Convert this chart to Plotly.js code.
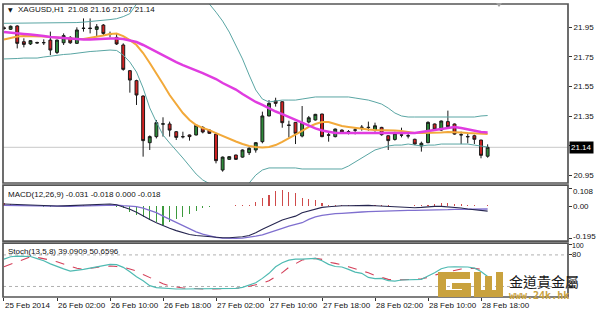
<!DOCTYPE html>
<html><head><meta charset="utf-8">
<script src="https://cdn.plot.ly/plotly-3.0.1.min.js"></script>
<style>html,body{margin:0;padding:0;background:#fff;}#chart{width:600px;height:313px;}</style>
</head><body><div id="chart"></div>
<script>
const symbolLabel = 'XAGUSD,H1';
const tickIdx = [0, 8, 16, 24, 32, 40, 48, 56, 64, 72];
const tickText = ['25 Feb 2014','26 Feb 02:00','26 Feb 10:00','26 Feb 18:00','27 Feb 02:00','27 Feb 10:00','27 Feb 18:00','28 Feb 02:00','28 Feb 10:00','28 Feb 18:00'];

const open = [21.945,21.935,21.957,21.851,21.836,21.846,21.844,21.862,21.779,21.844,21.880,21.840,21.940,21.943,21.934,21.963,21.902,21.880,21.829,21.656,21.589,21.485,21.171,21.212,21.296,21.297,21.245,21.212,21.223,21.223,21.274,21.256,21.229,20.987,21.059,21.088,21.074,21.104,21.122,21.178,21.351,21.452,21.447,21.290,21.308,21.216,21.310,21.324,21.364,21.224,21.212,21.256,21.246,21.255,21.273,21.275,21.256,21.274,21.218,21.193,21.224,21.216,21.194,21.149,21.171,21.297,21.256,21.313,21.297,21.223,21.213,21.218,21.189,21.08];
const high = [21.955,21.96,21.962,21.874,21.862,21.851,21.867,21.919,21.865,21.907,21.889,21.948,22.008,22.008,21.970,21.970,21.919,21.907,21.840,21.660,21.595,21.490,21.220,21.324,21.342,21.313,21.250,21.245,21.226,21.292,21.283,21.260,21.238,21.078,21.080,21.090,21.126,21.140,21.175,21.380,21.458,21.474,21.450,21.319,21.310,21.418,21.351,21.365,21.366,21.245,21.266,21.260,21.256,21.272,21.290,21.313,21.306,21.278,21.220,21.245,21.272,21.245,21.198,21.178,21.315,21.300,21.320,21.387,21.300,21.245,21.238,21.225,21.190,21.16];
const low = [21.93,21.93,21.806,21.813,21.829,21.838,21.829,21.761,21.768,21.829,21.836,21.836,21.919,21.907,21.889,21.896,21.880,21.829,21.656,21.508,21.425,21.077,21.122,21.200,21.212,21.212,21.189,21.200,21.185,21.220,21.234,21.230,21.032,20.976,21.055,21.055,21.070,21.088,21.104,21.167,21.349,21.414,21.272,21.207,21.162,21.207,21.301,21.320,21.208,21.178,21.207,21.236,21.227,21.227,21.252,21.252,21.245,21.218,21.122,21.185,21.207,21.200,21.155,21.111,21.168,21.255,21.250,21.275,21.225,21.162,21.167,21.162,21.066,21.07];
const close = [21.94,21.955,21.840,21.833,21.858,21.843,21.845,21.795,21.862,21.892,21.844,21.930,21.942,21.940,21.952,21.907,21.900,21.836,21.665,21.593,21.492,21.185,21.212,21.306,21.298,21.256,21.207,21.211,21.212,21.288,21.243,21.234,21.050,21.074,21.077,21.059,21.122,21.133,21.171,21.351,21.436,21.436,21.306,21.288,21.234,21.306,21.339,21.362,21.212,21.222,21.263,21.241,21.244,21.257,21.275,21.273,21.285,21.225,21.185,21.234,21.222,21.218,21.162,21.167,21.308,21.261,21.317,21.279,21.229,21.225,21.211,21.194,21.086,21.14];

const bbUpper = [21.975,21.975,21.977,21.978,21.978,21.977,21.976,21.976,21.977,21.978,21.978,21.980,21.983,21.986,21.990,21.995,22.000,22.006,22.020,22.040,22.110,22.170,22.220,22.245,22.255,22.250,22.235,22.210,22.185,22.160,22.135,22.105,22.050,21.990,21.916,21.822,21.735,21.627,21.526,21.465,21.445,21.452,21.458,21.458,21.458,21.465,21.472,21.479,21.479,21.479,21.479,21.479,21.479,21.472,21.465,21.458,21.445,21.431,21.404,21.371,21.351,21.344,21.344,21.344,21.344,21.344,21.344,21.344,21.344,21.344,21.344,21.344,21.351,21.354];
const bbLower = [21.735,21.735,21.738,21.741,21.741,21.741,21.748,21.755,21.761,21.765,21.768,21.775,21.778,21.785,21.788,21.792,21.795,21.792,21.761,21.714,21.647,21.539,21.405,21.310,21.223,21.169,21.122,21.068,21.014,20.960,20.920,20.893,20.866,20.846,20.839,20.846,20.866,20.899,20.953,20.987,21.001,21.001,21.001,21.001,21.001,20.994,20.994,20.994,20.994,20.994,20.994,20.994,21.014,21.041,21.068,21.095,21.122,21.135,21.149,21.155,21.155,21.162,21.155,21.149,21.155,21.155,21.162,21.162,21.162,21.162,21.162,21.155,21.149,21.142];
const maSlow = [21.916,21.913,21.910,21.903,21.899,21.896,21.889,21.883,21.879,21.873,21.869,21.866,21.866,21.866,21.869,21.873,21.873,21.873,21.869,21.859,21.849,21.829,21.805,21.782,21.758,21.735,21.714,21.694,21.677,21.660,21.640,21.620,21.600,21.573,21.553,21.529,21.499,21.472,21.445,21.425,21.401,21.381,21.364,21.344,21.324,21.304,21.283,21.267,21.253,21.243,21.236,21.236,21.236,21.236,21.236,21.236,21.236,21.236,21.236,21.236,21.236,21.236,21.236,21.243,21.250,21.256,21.267,21.273,21.277,21.270,21.260,21.250,21.243,21.240];
const maFast = [21.866,21.876,21.886,21.889,21.889,21.889,21.886,21.883,21.879,21.876,21.873,21.869,21.869,21.876,21.883,21.893,21.903,21.906,21.889,21.862,21.829,21.775,21.708,21.640,21.566,21.492,21.431,21.371,21.324,21.290,21.270,21.256,21.236,21.216,21.196,21.179,21.162,21.149,21.142,21.139,21.142,21.155,21.176,21.199,21.223,21.250,21.277,21.297,21.310,21.310,21.297,21.283,21.277,21.270,21.263,21.260,21.256,21.256,21.256,21.253,21.250,21.243,21.236,21.236,21.236,21.236,21.240,21.243,21.243,21.240,21.236,21.233,21.229,21.229];

const macdMain = [0.012,0.010,0.008,0.006,0.004,0.002,0,0,0,0.001,0.002,0.004,0.006,0.008,0.010,0.011,0.012,0.008,-0.004,-0.020,-0.038,-0.061,-0.081,-0.101,-0.119,-0.135,-0.149,-0.162,-0.172,-0.178,-0.182,-0.186,-0.190,-0.192,-0.192,-0.190,-0.186,-0.178,-0.162,-0.141,-0.121,-0.101,-0.085,-0.073,-0.061,-0.040,-0.028,-0.016,-0.008,-0.004,0,0.002,0.002,0.004,0.004,0.004,0.002,0,-0.004,-0.006,-0.008,-0.008,-0.010,-0.008,-0.004,-0.002,-0.002,-0.004,-0.008,-0.012,-0.018,-0.022,-0.026,-0.031];
const macdSignal = [0.004,0.003,0.002,0.001,0,-0.001,-0.002,-0.003,-0.004,-0.003,-0.002,-0.001,0,0.002,0.004,0.005,0.006,0.006,0.002,0,-0.004,-0.012,-0.024,-0.040,-0.061,-0.081,-0.101,-0.121,-0.139,-0.156,-0.170,-0.182,-0.190,-0.194,-0.196,-0.196,-0.194,-0.190,-0.182,-0.174,-0.162,-0.149,-0.135,-0.121,-0.111,-0.101,-0.081,-0.065,-0.057,-0.051,-0.046,-0.044,-0.040,-0.038,-0.036,-0.034,-0.032,-0.030,-0.028,-0.028,-0.026,-0.026,-0.026,-0.026,-0.024,-0.024,-0.022,-0.022,-0.020,-0.020,-0.018,-0.018,-0.018,-0.018];
const macdHist = [0.016,0.012,0.006,0.004,0.002,-0.002,-0.003,-0.004,-0.002,0.002,0.003,0.005,0.006,0.006,0.005,0.004,0.002,-0.004,-0.014,-0.034,-0.055,-0.065,-0.085,-0.095,-0.115,-0.095,-0.081,-0.069,-0.050,-0.030,-0.012,-0.004,0.001,0.003,0.003,0.004,0.005,0.008,0.026,0.046,0.067,0.090,0.097,0.085,0.077,0.046,0.042,0.036,0.020,0.008,0.007,0.006,0.006,0.006,0.006,0.006,0.005,0.005,0.004,0.003,0.001,0.001,0.004,0.005,0.006,0.012,0.016,0.016,0.014,0.010,0.007,0.005,0.003,0.004];
const macdHeader = 'MACD(12,26,9) -0.031 -0.018 0.000 -0.018';
const macdTicks = [0.108, 0, -0.195];
const macdTickText = ['0.108', '0.00', '-0.195'];
const macdLabelShift = [-3, 0, 2];

const stochMain = [72,76.5,77.8,77.8,77,73,69,63,57.5,53.5,49.3,50.5,52.6,55,57.5,60.7,62,61.5,56.4,48,38.5,31,21.5,17.7,16.5,15.8,15.2,15.2,15.2,15.8,15.8,15.8,15.8,15.8,16.5,16.5,18.3,22,27,35.4,45,57.5,65,70.2,72,72,72.7,73.4,68.9,62,58,57,52.6,47.4,45,37.2,34.8,35.4,31,30.3,32.3,32.3,32.9,33.5,39.8,46,53.8,57,57.5,57.5,57,55,48.6,39.09];
const stochSignal = [57.5,62.5,67.6,72.7,76.5,75.3,73.4,70.2,67,62.5,57.5,54.5,52.6,53.8,56.4,58,58.8,58,56.4,53.2,49.3,43,36.7,31,25.3,20.9,18.3,17,16.5,15.2,15.2,15.2,15.2,15.2,15.8,16.5,17.7,20.2,22,25.9,31,38.5,46.4,56.4,63.9,70.2,72,73.4,71.5,66.4,63.9,61.5,57.5,53.8,49.9,46,41,37.2,33.5,32.3,32.3,32.9,33.5,34.8,37.2,41.7,45,48,50.5,53.2,54.5,54.5,52.6,50.66];
const stochHeader = 'Stoch(13,5,8) 39.0909 50.6596';
const stochLevels = [80, 20];
const stochTicks = [100, 80, 20];
const stochTickText = ['100', '80', ''];
const stochLabelShift = [-1, 0, 0];
const priceTicks = [21.95, 21.75, 21.55, 21.35, 21.15, 20.95];

const xs = open.map((_, i) => i);
const last = close.length - 1;
const W = 600, H = 313, ML = 3, MR = 32, MT = 4, MB = 16;
const PW = W - ML - MR, PH = H - MT - MB;
const px = x => (x - ML) / PW;
const py = y => (H - MB - y) / PH;
const FONT = 'Liberation Sans, Arial, sans-serif';

const traces = [
  {type:'scatter', mode:'lines', x: xs, y: bbUpper, line:{color:'#5aa6a4', width:1}, xaxis:'x', yaxis:'y', hoverinfo:'skip'},
  {type:'scatter', mode:'lines', x: xs, y: bbLower, line:{color:'#5aa6a4', width:1}, xaxis:'x', yaxis:'y', hoverinfo:'skip'},
  {type:'scatter', mode:'lines', x: xs, y: maFast, line:{color:'#f2a93a', width:2}, xaxis:'x', yaxis:'y', hoverinfo:'skip'},
  {type:'scatter', mode:'lines', x: xs, y: maSlow, line:{color:'#e03ce0', width:2.5}, xaxis:'x', yaxis:'y', hoverinfo:'skip'},
  {type:'candlestick', x: xs, open: open, high: high, low: low, close: close, xaxis:'x', yaxis:'y',
   whiskerwidth: 0,
   increasing:{line:{color:'#1a1a1a', width:1}, fillcolor:'#2e8b3a'},
   decreasing:{line:{color:'#1a1a1a', width:1}, fillcolor:'#d42222'}, hoverinfo:'skip'},
  {type:'bar', x: xs, y: macdHist, width: 0.16, marker:{color: macdHist.map(v => v >= 0 ? '#cf4a4a' : '#3c9a3c'), line:{width:0}}, xaxis:'x', yaxis:'y2', hoverinfo:'skip'},
  {type:'scatter', mode:'lines', x: xs, y: macdSignal, line:{color:'#7f6fcf', width:1.3}, xaxis:'x', yaxis:'y2', hoverinfo:'skip'},
  {type:'scatter', mode:'lines', x: xs, y: macdMain, line:{color:'#262650', width:1.1}, xaxis:'x', yaxis:'y2', hoverinfo:'skip'},
  {type:'scatter', mode:'lines', x: xs, y: stochSignal, line:{color:'#d4405a', width:1.1, dash:'dash'}, xaxis:'x', yaxis:'y3', hoverinfo:'skip'},
  {type:'scatter', mode:'lines', x: xs, y: stochMain, line:{color:'#4fbab2', width:1.2}, xaxis:'x', yaxis:'y3', hoverinfo:'skip'}
];

const shapes = [];
shapes.push({type:'line', xref:'paper', x0:0, x1:1, yref:'y', y0:close[last], y1:close[last], line:{color:'#c8c8c8', width:1}, layer:'below'});
stochLevels.forEach(v => shapes.push({type:'line', xref:'paper', x0:0, x1:1, yref:'y3', y0:v, y1:v, line:{color:'#b0b0b0', width:1, dash:'dot'}, layer:'below'}));
['y','y2','y3'].forEach(a => shapes.push({type:'rect', xref:'paper', x0:0, x1:1, yref:a+' domain', y0:0, y1:1, line:{color:'#555', width:1.7}, fillcolor:'rgba(0,0,0,0)'}));
const tri = [[496,3],[502,3],[499,7]].map(p => [px(p[0]), py(p[1])]);
shapes.push({type:'path', xref:'paper', yref:'paper', path:'M'+tri.map(p=>p.join(',')).join('L')+'Z', fillcolor:'#a0a0a0', line:{width:0}});

// logo (gold block glyphs)
const gold = '#c9a23e';
function rectPx(x0,y0,x1,y1){ shapes.push({type:'rect', xref:'paper', yref:'paper', x0:px(x0), x1:px(x1), y0:py(y1), y1:py(y0), fillcolor:gold, line:{width:0}}); }
rectPx(438,272,470,279); rectPx(438,272,446,297); rectPx(438,290,471,297); rectPx(452,283,471,289); rectPx(462,283,471,297);
rectPx(474,272,481,297); rectPx(485,276,492,297); rectPx(496,272,503,297); rectPx(474,290,503,297);

const annotations = [];
tickIdx.forEach((t, k) => annotations.push({xref:'x', yref:'paper', x:t, y:py(305), text:tickText[k], showarrow:false, xanchor:'left', yanchor:'middle', xshift:-1, font:{family:FONT, size:8, color:'#111'}}));
annotations.push({xref:'paper', yref:'paper', x:px(6), y:py(10), text:'▼', showarrow:false, xanchor:'left', yanchor:'middle', font:{family:'DejaVu Sans', size:6, color:'#111'}});
annotations.push({xref:'paper', yref:'paper', x:px(16), y:py(10), text:symbolLabel, showarrow:false, xanchor:'left', yanchor:'middle', font:{family:FONT, size:8, color:'#111'}});
annotations.push({xref:'paper', yref:'paper', x:px(66), y:py(10), text:[open[last],high[last],low[last],close[last]].map(v=>v.toFixed(2)).join(' '), showarrow:false, xanchor:'left', yanchor:'middle', font:{family:FONT, size:8, color:'#111'}});
annotations.push({xref:'paper', yref:'paper', x:px(6), y:py(194), text:macdHeader, showarrow:false, xanchor:'left', yanchor:'middle', font:{family:FONT, size:8, color:'#111'}});
annotations.push({xref:'paper', yref:'paper', x:px(6), y:py(251), text:stochHeader, showarrow:false, xanchor:'left', yanchor:'middle', font:{family:FONT, size:8, color:'#111'}});
macdTicks.forEach((v, k) => annotations.push({xref:'paper', yref:'y2', x:1, y:v, text:macdTickText[k], showarrow:false, xanchor:'left', yanchor:'middle', xshift:3, yshift:macdLabelShift[k], font:{family:FONT, size:8, color:'#111'}}));
stochTicks.forEach((v, k) => { if (stochTickText[k]) annotations.push({xref:'paper', yref:'y3', x:1, y:v, text:stochTickText[k], showarrow:false, xanchor:'left', yanchor:'middle', xshift:3, yshift:stochLabelShift[k], borderpad:0, font:{family:FONT, size:k===0?7:8, color:'#111'}}); });
annotations.push({xref:'paper', yref:'y', x:1, y:close[last], text:close[last].toFixed(2), showarrow:false, xanchor:'left', yanchor:'middle', xshift:1, bgcolor:'#000', borderpad:1, font:{family:FONT, size:8, color:'#fff'}});
annotations.push({xref:'paper', yref:'paper', x:px(507), y:py(281), text:'金道貴金屬', showarrow:false, xanchor:'left', yanchor:'middle', font:{family:'Noto Sans CJK TC', size:14, color:'#1a1a1a'}});
annotations.push({xref:'paper', yref:'paper', x:px(507), y:py(295), text:'<b>www.24k.hk</b>', showarrow:false, xanchor:'left', yanchor:'middle', font:{family:'DejaVu Sans Mono', size:10, color:gold}});

const axisFont = {family:FONT, size:8, color:'#111'};
const layout = {
  width: W, height: H, margin:{l:ML, r:MR, t:MT, b:MB, pad:0},
  paper_bgcolor:'#fff', plot_bgcolor:'#fff', showlegend:false, bargap:0,
  boxgap: 0.38,
  xaxis:{anchor:'y3', range:[-0.15, 85.13], showgrid:false, zeroline:false, showline:false, tickvals:tickIdx, ticktext:tickIdx.map(()=>''), ticks:'outside', ticklen:3, tickcolor:'#333', rangeslider:{visible:false}, fixedrange:true},
  yaxis:{domain:[0.389, 1], range:[20.8995, 22.105], side:'right', showgrid:false, zeroline:false, tickvals:priceTicks, ticktext:priceTicks.map(v => Math.abs(v - close[last]) < 0.03 ? '' : v.toFixed(2)), ticks:'outside', ticklen:3, tickcolor:'#333', tickfont:axisFont, anchor:'x'},
  yaxis2:{domain:[0.191, 0.382], range:[-0.212, 0.127], side:'right', showgrid:false, zeroline:false, tickvals:macdTicks, ticktext:macdTicks.map(()=>''), ticks:'outside', ticklen:3, tickcolor:'#333', tickfont:axisFont, anchor:'x'},
  yaxis3:{domain:[0, 0.184], range:[0, 102.5], side:'right', showgrid:false, zeroline:false, tickvals:stochTicks, ticktext:stochTicks.map(()=>''), ticks:'outside', ticklen:3, tickcolor:'#333', tickfont:axisFont, anchor:'x'},
  shapes: shapes, annotations: annotations
};
Plotly.newPlot('chart', traces, layout, {staticPlot:true, displayModeBar:false});
</script></body></html>
